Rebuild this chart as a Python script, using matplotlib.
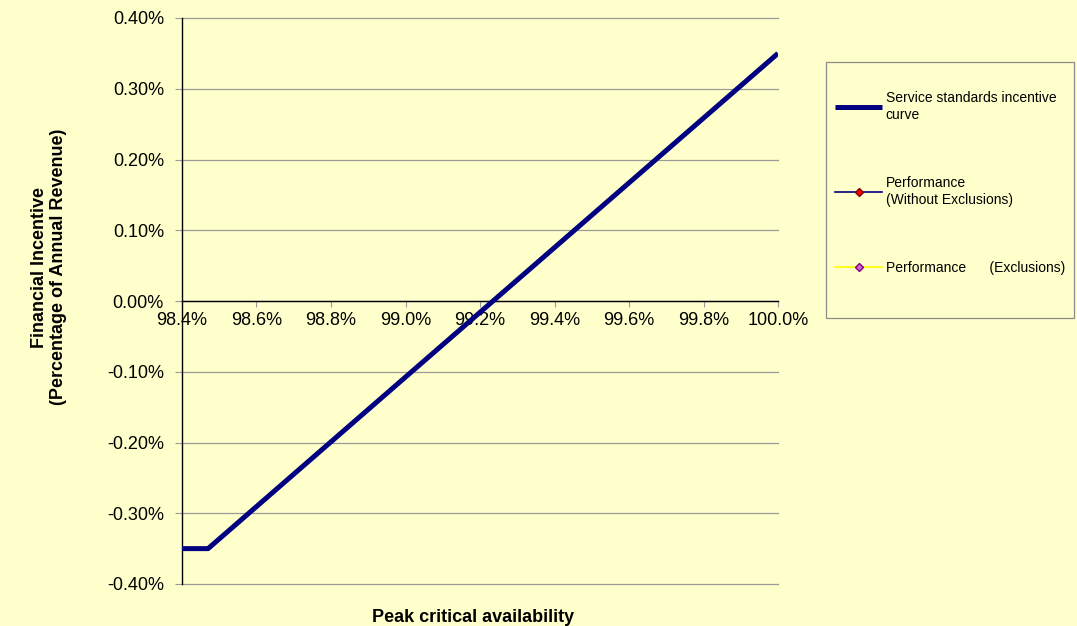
import matplotlib
matplotlib.use("Agg")
import matplotlib.pyplot as plt
from matplotlib.patches import Rectangle
from matplotlib.ticker import PercentFormatter

# service standards incentive curve (values in %)
availability = [98.40, 98.47, 100.00]
incentive = [-0.35, -0.35, 0.35]

# performance series are empty in the source chart (legend only)
perf_without_x = []
perf_without_y = []
perf_excl_x = []
perf_excl_y = []

x_ticks = [98.4, 98.6, 98.8, 99.0, 99.2, 99.4, 99.6, 99.8, 100.0]
y_ticks = [-0.40, -0.30, -0.20, -0.10, 0.00, 0.10, 0.20, 0.30, 0.40]

plt.rcParams["font.family"] = ["Liberation Sans", "DejaVu Sans"]
plt.rcParams["axes.unicode_minus"] = False

bg = "#FFFFCC"
grid_col = "#9A9A9A"

fig = plt.figure(figsize=(10.77, 6.26), dpi=100, facecolor=bg)
ax = fig.add_axes([182 / 1077, 1 - 584 / 626, 596 / 1077, 566 / 626])
ax.set_facecolor(bg)

ax.plot(availability, incentive, color="#000080", linewidth=3.6,
        solid_capstyle="butt", zorder=3, label="Service standards incentive\ncurve")
ax.plot(perf_without_x, perf_without_y, color="#000080", linewidth=1.2,
        marker="D", markersize=4.5, markerfacecolor="#FF0000", markeredgecolor="#800000",
        label="Performance\n(Without Exclusions)")
ax.plot(perf_excl_x, perf_excl_y, color="#FFFF00", linewidth=1.2,
        marker="D", markersize=4.5, markerfacecolor="#CC66CC", markeredgecolor="#800080",
        label="Performance      (Exclusions)")

ax.set_xlim(98.4, 100.0)
ax.set_ylim(-0.40, 0.40)
ax.set_xticks(x_ticks)
ax.set_yticks(y_ticks)
ax.xaxis.set_major_formatter(PercentFormatter(xmax=100, decimals=1))
ax.yaxis.set_major_formatter(PercentFormatter(xmax=100, decimals=2))

ax.grid(axis="y", color=grid_col, linewidth=0.9)
ax.set_axisbelow(True)
for gl in ax.get_ygridlines():
    gl.set_clip_on(False)

ax.spines["top"].set_visible(False)
ax.spines["right"].set_visible(False)
ax.spines["bottom"].set_position(("data", 0))
ax.spines["bottom"].set_linewidth(1.0)
ax.spines["left"].set_linewidth(1.0)

ax.tick_params(axis="x", direction="out", length=4, color=grid_col, labelsize=13, pad=4)
ax.tick_params(axis="y", direction="out", length=5, color=grid_col, labelsize=13, pad=8)

ax.set_xlabel("Peak critical availability", fontsize=13, fontweight="bold")
ax.xaxis.set_label_coords(0.488, -0.044)
ax.set_ylabel("Financial Incentive\n(Percentage of Annual Revenue)", fontsize=13,
              fontweight="bold", linespacing=1.15)
ax.yaxis.set_label_coords(-0.193, 0.56)

# legend box drawn separately so the padding matches the original
fig.patches.append(Rectangle((826 / 1077, 1 - 318 / 626), 248 / 1077, 256 / 626,
                             transform=fig.transFigure, facecolor=bg,
                             edgecolor="#8C8C8C", linewidth=0.9, zorder=0))

leg = fig.legend(loc="upper left", bbox_to_anchor=(835 / 1077, 1 - 91 / 626),
                 fontsize=10, labelspacing=3.9, borderpad=0, borderaxespad=0,
                 handlelength=3.4, handletextpad=0.25, frameon=False)
for t in leg.get_texts():
    t.set_linespacing(1.25)

fig.savefig("out.png", dpi=100, facecolor=bg)
